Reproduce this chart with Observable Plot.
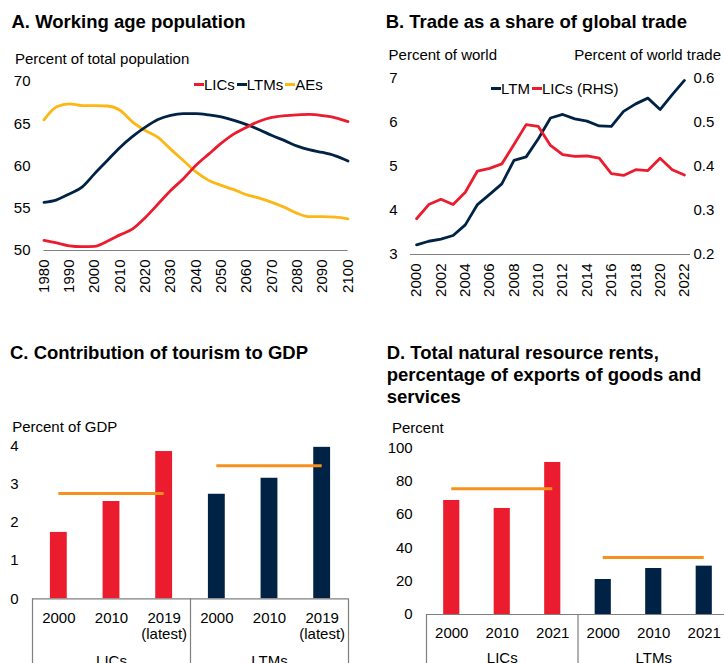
<!DOCTYPE html>
<html><head><meta charset="utf-8">
<script src="https://cdn.jsdelivr.net/npm/d3@7"></script>
<script src="https://cdn.jsdelivr.net/npm/@observablehq/plot@0.6"></script>
<style>
html,body{margin:0;padding:0;background:#fff;overflow:hidden;width:724px;height:663px;}
body{position:relative;font-family:"Liberation Sans",Arial,Helvetica,sans-serif;color:#000;}
.abs{position:absolute;white-space:nowrap;}
.title{font-size:18.5px;font-weight:bold;line-height:22px;}
.lab{font-size:15px;line-height:15px;}
.legend{display:flex;align-items:center;font-size:15px;line-height:15px;height:15px;}
.legend .item{display:flex;align-items:center;margin-right:2px;}
.sw{display:inline-block;width:10px;height:3px;}
</style></head><body>
<script>
// ---------- Panel A data: working age population (% of total) ----------
const yearsA = [1980,1985,1990,1995,2000,2005,2010,2015,2020,2025,2030,2035,2040,2045,2050,2055,2060,2065,2070,2075,2080,2085,2090,2095,2100];
const licsA  = [51.2,50.9,50.55,50.45,50.5,51.1,51.85,52.55,53.9,55.5,57.1,58.5,60.1,61.4,62.7,63.8,64.6,65.3,65.75,65.95,66.05,66.1,65.95,65.7,65.25];
const ltmsA  = [55.7,56.0,56.7,57.5,59.1,60.65,62.2,63.5,64.6,65.5,66.0,66.2,66.2,66.05,65.8,65.4,64.9,64.3,63.6,63.0,62.35,61.9,61.6,61.2,60.6];
const aesA   = [65.45,67.0,67.35,67.15,67.15,67.1,66.6,65.2,64.2,63.4,62.0,60.65,59.3,58.3,57.7,57.2,56.6,56.2,55.7,55.1,54.4,54.0,54.0,53.95,53.75];
const yTicksA = [50,55,60,65,70];
const xTicksA = [1980,1990,2000,2010,2020,2030,2040,2050,2060,2070,2080,2090,2100];

// ---------- Panel B data: trade share ----------
const yearsB = [2000,2001,2002,2003,2004,2005,2006,2007,2008,2009,2010,2011,2012,2013,2014,2015,2016,2017,2018,2019,2020,2021,2022];
const ltmB   = [3.22,3.30,3.35,3.43,3.67,4.13,4.36,4.60,5.13,5.21,5.62,6.09,6.17,6.07,6.02,5.91,5.90,6.24,6.41,6.54,6.28,6.62,6.94];
const licsB  = [0.281,0.313,0.325,0.313,0.341,0.389,0.395,0.405,0.449,0.494,0.490,0.447,0.426,0.422,0.423,0.418,0.383,0.379,0.392,0.390,0.418,0.392,0.380];
const yTicksB = [3,4,5,6,7];
const rhsDomainB = [0.2,0.6];
const xTicksB = [2000,2002,2004,2006,2008,2010,2012,2014,2016,2018,2020,2022];

// ---------- Panel C data: tourism ----------
const groupsC = ["LICs","LTMs"];
const catsC = ["2000","2010","2019\n(latest)"];
const licsC = [1.74,2.55,3.86];
const ltmsC = [2.74,3.16,3.97];
const avgC  = [2.76,3.49];
const yTicksC = [0,1,2,3,4];

// ---------- Panel D data: natural resource rents ----------
const groupsD = ["LICs","LTMs"];
const catsD = ["2000","2010","2021"];
const licsD = [68.4,63.6,91.2];
const ltmsD = [21.0,27.6,29.0];
const avgD  = [75.4,34.2];
const yTicksD = [0,20,40,60,80,100];

const FONT = '"Liberation Sans", Arial, Helvetica, sans-serif';
const RED = "#EB1C2D", NAVY = "#002345", GOLD = "#FDB714", ORANGE = "#F7901E", AXIS = "#7f7f7f";
const baseStyle = {fontFamily: FONT, fontSize: "15px", color: "#000", background: "transparent", overflow: "visible"};
const plain = d => String(d);

function place(el, left, top) {
  el.style.position = "absolute";
  el.style.left = left + "px";
  el.style.top = top + "px";
  document.body.appendChild(el);
  return el;
}
function addText(cls, html, left, top, right) {
  const d = document.createElement("div");
  d.className = "abs " + cls;
  d.innerHTML = html;
  d.style.top = top + "px";
  if (right != null) d.style.right = right + "px"; else d.style.left = left + "px";
  document.body.appendChild(d);
}
function addLegend(items, left, top) {
  const d = document.createElement("div");
  d.className = "abs legend";
  d.style.left = left + "px"; d.style.top = top + "px";
  d.innerHTML = items.map(([c, t]) => `<span class="item"><span class="sw" style="background:${c}"></span><span>${t}</span></span>`).join("");
  document.body.appendChild(d);
}

// ---------- Panel A ----------
const chartA = Plot.plot({
  width: 362, height: 250,
  marginLeft: 43.5, marginRight: 14.5, marginTop: 21, marginBottom: 60,
  x: {domain: [1980, 2100]},
  y: {domain: [50, 70]},
  style: baseStyle,
  marks: [
    Plot.axisY({ticks: yTicksA, tickFormat: plain, tickSize: 0, tickPadding: 13.5, label: null}),
    Plot.axisX({ticks: xTicksA, tickFormat: plain, tickRotate: -90, tickSize: 0, tickPadding: 9, label: null}),
    Plot.ruleY([50], {stroke: AXIS, strokeWidth: 1.2}),
    Plot.line(aesA, {x: yearsA, y: aesA, stroke: GOLD, strokeWidth: 2.8, curve: "monotone-x"}),
    Plot.line(ltmsA, {x: yearsA, y: ltmsA, stroke: NAVY, strokeWidth: 2.8, curve: "monotone-x"}),
    Plot.line(licsA, {x: yearsA, y: licsA, stroke: RED, strokeWidth: 2.8, curve: "monotone-x"})
  ]
});
place(chartA, 0, 60);
addText("title", "A. Working age population", 11.5, 11);
addText("lab", "Percent of total population", 15, 50.6);
addLegend([[RED, "LICs"], [NAVY, "LTMs"], [GOLD, "AEs"]], 194, 77);

// ---------- Panel B ----------
const toLeftB = v => yTicksB[0] + (v - rhsDomainB[0]) * (yTicksB[yTicksB.length-1] - yTicksB[0]) / (rhsDomainB[1] - rhsDomainB[0]);
const toRightB = d => rhsDomainB[0] + (d - yTicksB[0]) * (rhsDomainB[1] - rhsDomainB[0]) / (yTicksB[yTicksB.length-1] - yTicksB[0]);
const chartB = Plot.plot({
  width: 362, height: 250,
  marginLeft: 48, marginRight: 34, marginTop: 17.3, marginBottom: 56,
  x: {domain: [yearsB[0] - 0.5, yearsB[yearsB.length-1] + 0.5]},
  y: {domain: [3, 7]},
  style: baseStyle,
  marks: [
    Plot.axisY({ticks: yTicksB, anchor: "left", tickFormat: plain, tickSize: 0, tickPadding: 13, label: null}),
    Plot.axisY({ticks: yTicksB, anchor: "right", tickSize: 0, tickPadding: 3, tickFormat: d => toRightB(d).toFixed(1), label: null}),
    Plot.axisX({ticks: xTicksB, tickFormat: plain, tickRotate: -90, tickSize: 0, tickPadding: 9, label: null}),
    Plot.ruleY([3], {stroke: AXIS, strokeWidth: 1.2}),
    Plot.line(ltmB, {x: yearsB, y: ltmB, stroke: NAVY, strokeWidth: 2.8}),
    Plot.line(licsB, {x: yearsB, y: licsB.map(toLeftB), stroke: RED, strokeWidth: 2.8})
  ]
});
place(chartB, 362, 60);
addText("title", "B. Trade as a share of global trade", 385.7, 11);
addText("lab", "Percent of world", 388.6, 47.3);
addText("lab", "Percent of world trade", null, 47.3, 3);
addLegend([[NAVY, "LTM"], [RED, "LICs (RHS)"]], 491, 81);

// ---------- Bar panels ----------
function barChart({groups, cats, series, avgs, yTicks, width, height, marginLeft, marginRight, marginTop, marginBottom, tickDy, groupDy, sepExtent}) {
  const n = cats.length;
  const rows = groups.flatMap((g, gi) => cats.map((c, ci) => ({i: gi * n + ci, gi, label: c, value: series[gi][ci]})));
  const seps = d3.range(groups.length + 1).map(k => k * n);
  const grp = groups.map((g, gi) => ({g, gi}));
  const av = avgs.map((v, gi) => ({v, gi}));
  const colors = [RED, NAVY];
  return Plot.plot({
    width, height, marginLeft, marginRight, marginTop, marginBottom,
    x: {domain: [0, groups.length * n], axis: null},
    y: {domain: [yTicks[0], yTicks[yTicks.length-1]]},
    style: baseStyle,
    marks: [
      Plot.axisY({ticks: yTicks, tickFormat: plain, tickSize: 0, tickPadding: 13.8, label: null}),
      ...groups.map((g, gi) => Plot.rectY(rows.filter(r => r.gi === gi), {x1: d => d.i + 0.34, x2: d => d.i + 0.66, y1: 0, y2: "value", fill: colors[gi]})),
      Plot.ruleY(av, {y: "v", x1: d => d.gi * n + 0.5, x2: d => d.gi * n + n - 0.5, stroke: ORANGE, strokeWidth: 3}),
      Plot.ruleY([0], {stroke: AXIS, strokeWidth: 1.2}),
      Plot.ruleX(seps, {x: d => d, y1: 0, y2: sepExtent, stroke: AXIS, strokeWidth: 1.2}),
      Plot.text(rows, {x: d => d.i + 0.5, y: 0, text: "label", dy: tickDy, lineAnchor: "top", lineHeight: 1.07}),
      Plot.text(grp, {x: d => d.gi * n + n / 2, y: 0, text: "g", dy: groupDy, lineAnchor: "top"})
    ]
  });
}

const chartC = barChart({groups: groupsC, cats: catsC, series: [licsC, ltmsC], avgs: avgC, yTicks: yTicksC,
  width: 362, height: 250, marginLeft: 32, marginRight: 14, marginTop: 15.7, marginBottom: 81.7,
  tickDy: 13, groupDy: 57, sepExtent: -2.2});
place(chartC, 0, 430);
addText("title", "C. Contribution of tourism to GDP", 10, 342);
addText("lab", "Percent of GDP", 12.2, 419);

const chartD = barChart({groups: groupsD, cats: catsD, series: [licsD, ltmsD], avgs: avgD, yTicks: yTicksD,
  width: 372, height: 260, marginLeft: 64, marginRight: 5, marginTop: 17.3, marginBottom: 76,
  tickDy: 12, groupDy: 38, sepExtent: -40});
place(chartD, 362, 430);
addText("title", "D. Total natural resource rents,<br>percentage of exports of goods and<br>services", 386.7, 342.3);
addText("lab", "Percent", 392, 420);
</script>
</body></html>
